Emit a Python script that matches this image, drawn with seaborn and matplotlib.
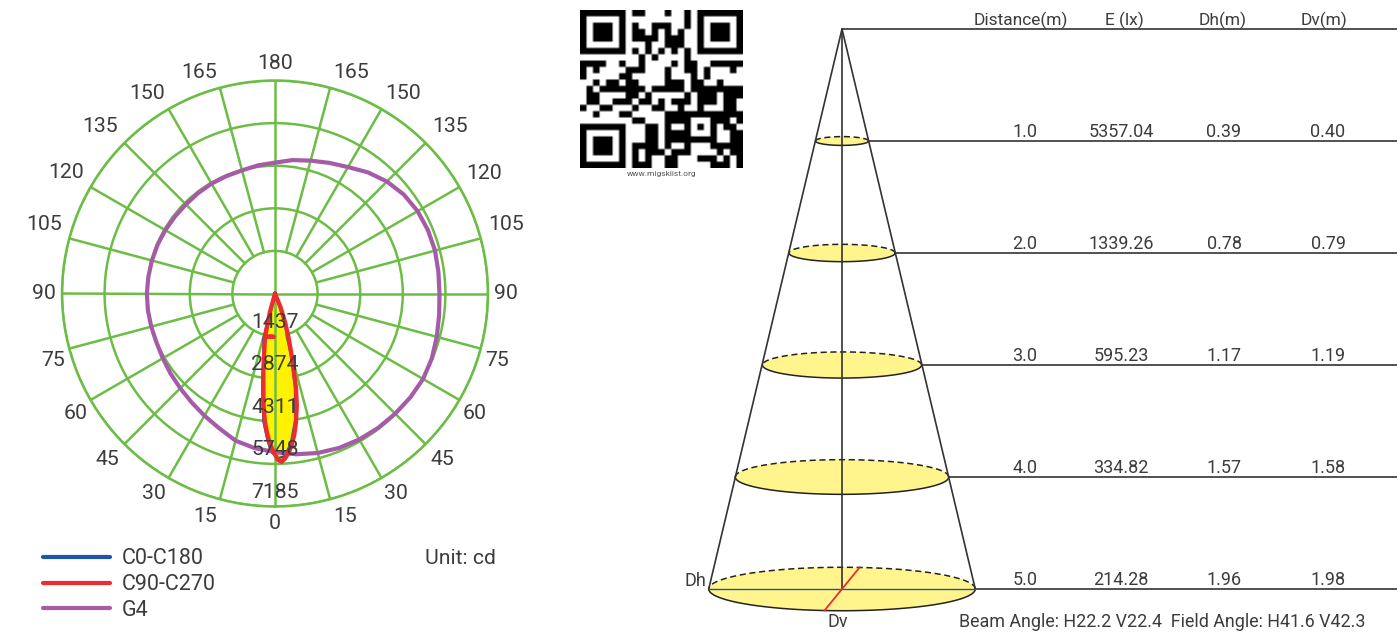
import matplotlib
matplotlib.use("Agg")
import matplotlib.pyplot as plt
import numpy as np
import seaborn as sns

# polar curves, angle(deg) from the 0 direction, going round through the right side
g4_angle = [0, 7.5, 15, 22.5, 30, 37.5, 45, 52.5, 60, 67.5, 75, 82.5, 90, 97.5, 105, 112.5, 120, 127.5,
            135, 142.5, 150, 157.5, 165, 172.5, 180, 187.5, 195, 202.5, 210, 217.5, 225, 232.5, 240,
            247.5, 255, 262.5, 270, 277.5, 285, 292.5, 300, 307.5, 315, 322.5, 330, 337.5, 345, 352.5, 360]
g4_cd = [5351, 5470, 5570, 5640, 5685, 5715, 5733, 5755, 5768, 5725, 5650, 5585, 5548, 5560, 5588, 5585,
         5555, 5480, 5340, 5150, 4925, 4770, 4640, 4540, 4416, 4360, 4300, 4285, 4280, 4265, 4250, 4258,
         4273, 4288, 4298, 4310, 4322, 4325, 4322, 4326, 4370, 4440, 4520, 4625, 4760, 4920, 5140, 5260, 5351]
c90_angle = [0, 22, 19.4, 17, 15.1, 13.6, 12.5, 11, 9.3, 7.8, 6.3, 4.8, 3.5, 2.3, 1.1, -0.6, -2.2, -3.3,
             -4.5, -5.8, -7, -8.5, -10.1, -13, -2.2, -13, -15.3, 0]
c90_cd = [0, 500, 1012, 1580, 2155, 2720, 3280, 3850, 4384, 4800, 5146, 5400, 5573, 5680, 5620, 5340, 5004,
          4700, 4340, 3800, 3226, 2660, 2113, 1498, 1461, 1498, 640, 0]
c0_angle = [0, 18.5, 14.4, 12, 9, 6, 3.3, 1, -1.5, -3, -5.2, -7.8, -10.6, -14.5, -16, 0]
c0_cd = [0, 1000, 2130, 3230, 4330, 5090, 5500, 5560, 5330, 4950, 4340, 3210, 2110, 1560, 650, 0]

ring_cd = [1437, 2874, 4311, 5748, 7185]
angle_ticks = [0, 15, 30, 45, 60, 75, 90, 105, 120, 135, 150, 165, 180]
angle_label_at = [0, 17.4, 31.2, 45.3, 59, 73.2, 90, 106.6, 120, 133.7, 147.4, 161, 180]
angle_label_r = [230, 233.7, 233.7, 236, 233, 232, 231, 241, 241, 242, 237, 234, 230]

# beam table
distance = [1.0, 2.0, 3.0, 4.0, 5.0]
lux = ["5357.04", "1339.26", "595.23", "334.82", "214.28"]
dh = [0.39, 0.78, 1.17, 1.57, 1.96]
dv = [0.40, 0.79, 1.19, 1.58, 1.98]
table_head = ["Distance(m)", "E (lx)", "Dh(m)", "Dv(m)"]

qr_rows = [
    "1111111 0 110001001 0 1111111",
    "1000001 0 000000001 0 1000001",
    "1011101 0 100111001 0 1011101",
    "1011101 0 110101010 0 1011101",
    "1011101 0 111101110 0 1011101",
    "1000001 0 001001110 0 1000001",
    "1111111 0 101010101 0 1111111",
    "0000000 0 010100001 0 0000000",
    "11110010 010000101 1 0011111",
    "10100001 110001001 1 0100010",
    "10000011 000001000 1 0100000",
    "00101101 100001110 1 1001000",
    "01011111 110111110 1 1111111",
    "01100001 101000001 0 1110111",
    "01100111 011010111 0 1110110",
    "10011000 100110010 0 1000110",
    "00100011 00000111 11111 1111",
    "00000000 11000111 10001 1101",
    "1111111 0 00110100 10101 0110",
    "1000001 0 00110111 10001 0011",
    "1011101 0 00110111 11111 0011",
    "1011101 0 11110100 100011111",
    "1011101 0 10111011 100001011",
    "1000001 0 10100110 001110101",
    "1111111 0 11100110 000011101",
]

W, H = 1397, 635
TXT = "#3c3c3c"
GREEN = "#6cbd45"
BLUE = "#1f55a5"
RED = "#ee2b2e"
PURPLE = "#a55ba8"

sns.set_theme(style="white")
plt.rcParams["font.family"] = ["Roboto", "DejaVu Sans"]

fig = plt.figure(figsize=(W / 100, H / 100), dpi=100)


def polar_chart():
    ax = fig.add_axes([62 / W, (H - 506.5) / H, 426 / W, 426 / H], projection="polar")
    ax.set_theta_zero_location("S")
    ax.set_theta_direction(1)
    ax.set_facecolor("none")
    ax.fill(np.radians(c90_angle), c90_cd, color="#fff200", zorder=1, lw=0)
    sns.lineplot(x=np.radians(c0_angle), y=c0_cd, sort=False, estimator=None, color=BLUE, lw=1.6,
                 label="C0-C180", ax=ax, zorder=3)
    sns.lineplot(x=np.radians(c90_angle), y=c90_cd, sort=False, estimator=None, color=RED, lw=3.1,
                 label="C90-C270", ax=ax, zorder=5)
    sns.lineplot(x=np.radians(g4_angle), y=g4_cd, sort=False, estimator=None, color=PURPLE, lw=3.0,
                 label="G4", ax=ax, zorder=4)
    ax.set_xlabel("")
    ax.set_ylabel("")
    ax.set_ylim(0, ring_cd[-1])
    ax.set_yticks(ring_cd)
    ax.set_yticklabels([])
    ax.set_xticks([])
    ax.grid(False)
    ax.yaxis.grid(True, color=GREEN, lw=1.8)
    ax.spines["polar"].set_color(GREEN)
    ax.spines["polar"].set_linewidth(1.8)

    # spokes stop at the first ring, only the axes go through the centre
    for a in range(0, 360, 15):
        start = 0 if a % 90 == 0 else ring_cd[0]
        ax.plot(np.radians([a, a]), [start, ring_cd[-1]], color=GREEN, lw=1.8, zorder=1.5)

    cd_per_px = ring_cd[-1] / 213
    for a, at, r in zip(angle_ticks, angle_label_at, angle_label_r):
        for s in ([at] if a in (0, 180) else [at, -at]):
            ax.text(np.radians(s), r * cd_per_px, str(a), ha="center", va="center",
                    fontsize=15.3, color=TXT, clip_on=False)
    for v in ring_cd:
        ax.text(0, v - 14 * cd_per_px, str(v), ha="center", va="center", fontsize=15.3, color=TXT, zorder=6)

    leg = ax.legend(loc="upper left", bbox_to_anchor=(-19 / 426, -42 / 426), frameon=False, fontsize=15.5,
                    handlelength=3.1, handletextpad=0.56, labelspacing=0.22, borderpad=0, borderaxespad=0)
    for t in leg.get_texts():
        t.set_color(TXT)
    for line in leg.get_lines():
        line.set_linewidth(3.0)
    fig.text(425 / W, 1 - 558 / H, "Unit: cd", fontsize=15.2, color=TXT, va="center")


def qr_code():
    ax = fig.add_axes([580 / W, (H - 168) / H, 163 / W, 158 / H])
    qr = np.array([[int(c) for c in r.replace(" ", "")] for r in qr_rows])
    ax.imshow(np.kron(qr, np.ones((3, 3))), cmap="gray_r", interpolation="bilinear", aspect="auto")
    ax.axis("off")
    fig.text(662 / W, 1 - 174 / H, "www.migsklist.org", fontsize=6, color="#555555", ha="center", va="center")


def cone():
    # x in metres across the beam, y in metres below the lamp
    ax = fig.add_axes([0, 0, 1, 1])
    ax.set_facecolor("none")
    ax.set_xlim(-842 / 136, (W - 842) / 136)
    ax.set_ylim((H - 29) / 112, -29 / 112)
    ax.axis("off")
    squash = 0.098
    t = np.linspace(0, np.pi, 80)
    tr = ax.get_yaxis_transform()

    for d, h, v in zip(distance, dh, dv):
        x = h / 2 * np.cos(t)
        y = v * squash * np.sin(t)
        ax.fill(np.r_[x, x[::-1]], np.r_[d - y, (d + y)[::-1]], color="#fff58c", lw=0, zorder=1)
        ax.plot(x, d - y, color="#222222", lw=1.1, ls=(0, (4, 2.4)), zorder=2)
        ax.plot(x, d + y, color="#222222", lw=1.1, zorder=2)
        ax.plot([h / 2, (W - 842) / 136], [d, d], color="#222222", lw=1.1, zorder=2)

    ax.plot([0, (W - 842) / 136], [0, 0], color="#222222", lw=1.1)
    ax.plot([0, 0], [0, distance[-1]], color="#333333", lw=1.2, zorder=3)
    ax.plot([-dh[-1] / 2, 0, dh[-1] / 2], [distance[-1], 0, distance[-1]], color="#333333", lw=1.2, zorder=3)
    ax.plot([-dh[-1] / 2, dh[-1] / 2], [distance[-1], distance[-1]], color=BLUE, lw=1.0, zorder=3)
    ax.plot([-0.13, 0.13], [distance[-1] + dv[-1] * squash, distance[-1] - dv[-1] * squash], color=RED, lw=1.3, zorder=4)

    col_x = [1025, 1121, 1224, 1328]
    for x, label in zip([1020.5, 1124, 1223, 1324], table_head):
        ax.text(x / W, -9 / 112, label, transform=tr, ha="center", va="center", fontsize=12.5, color=TXT)
    for d, e, h, v in zip(distance, lux, dh, dv):
        row = ["%.1f" % d, e, "%.2f" % h, "%.2f" % v]
        for x, s in zip(col_x, row):
            ax.text(x / W, d - 9 / 112, s, transform=tr, ha="center", va="center", fontsize=13, color=TXT)

    fig.text(685 / W, 1 - 581 / H, "Dh", fontsize=13, color=TXT, va="center")
    fig.text(838 / W, 1 - 622 / H, "Dv", fontsize=13, color=TXT, ha="center", va="center")
    fig.text(959 / W, 1 - 622 / H, "Beam Angle: H22.2 V22.4  Field Angle: H41.6 V42.3",
             fontsize=12.9, color=TXT, va="center")


cone()
polar_chart()
qr_code()
fig.savefig("out.png", dpi=100)
